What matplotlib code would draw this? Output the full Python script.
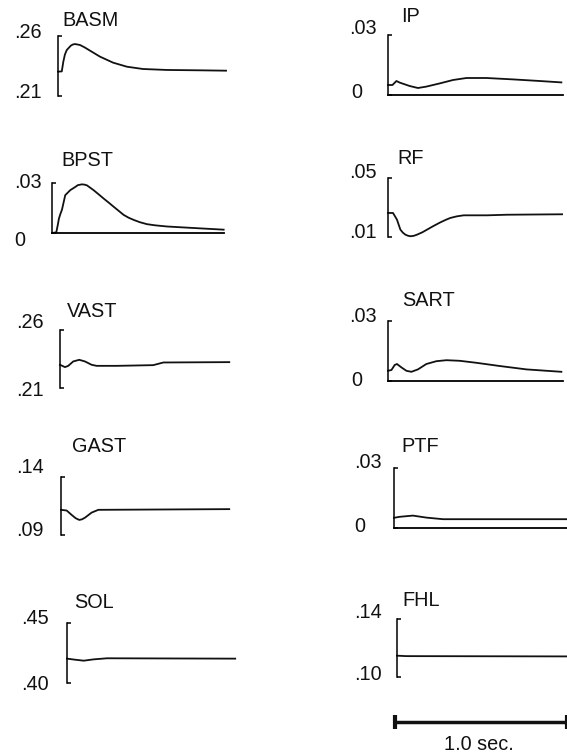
import matplotlib
matplotlib.use("Agg")
import matplotlib.pyplot as plt

W, H = 567, 754
PX_PER_SEC = 172.0
plt.rcParams["font.family"] = ["Liberation Sans", "DejaVu Sans"]

# traces: time in seconds, value in the panel's units
basm_t = [0, .022, .031, .040, .051, .074, .086, .099, .128, .155, .186, .244, .320, .401, .494, .634, .826, .977]
basm_v = [.2303, .2305, .2386, .2445, .2483, .2519, .2529, .2533, .2525, .2505, .2478, .2428, .2378, .2344, .2325, .2317, .2314, .2311]

bpst_t = [0, .025, .033, .040, .048, .058, .077, .106, .135, .150, .174, .190, .203, .242, .270, .300, .330, .358,
          .390, .416, .445, .474, .510, .552, .600, .669, .823, .998]
bpst_v = [0.0, .0004, .0045, .0085, .0112, .0140, .0227, .0257, .0276, .0287, .0292, .0290, .0286, .0257, .0233, .0207,
          .0182, .0158, .0131, .0109, .0092, .0079, .0065, .0053, .0046, .0039, .0030, .0020]

vast_t = [0, .029, .048, .077, .112, .145, .184, .213, .330, .542, .601, .984]
vast_v = [.2300, .2280, .2291, .2329, .2343, .2329, .2300, .2291, .2291, .2297, .2320, .2323]

gast_t = [0, .033, .062, .085, .106, .122, .140, .178, .217, .978]
gast_v = [.1117, .1111, .1073, .1045, .1030, .1035, .1050, .1093, .1117, .1123]

sol_t = [0, .048, .097, .155, .233, .978]
sol_v = [.4203, .4194, .4186, .4197, .4206, .4203]

ip_t = [0, .026, .049, .068, .126, .174, .223, .301, .378, .456, .572, .727, .882, 1.008]
ip_v = [.0050, .0050, .0070, .0062, .0045, .0035, .0042, .0058, .0075, .0085, .0085, .0078, .0070, .0063]

rf_t = [0, .029, .052, .072, .086, .101, .115, .130, .150, .169, .200, .227, .265, .304, .335, .362, .400, .440,
        .576, .692, 1.012]
rf_v = [.0263, .0263, .0218, .0150, .0130, .0116, .0109, .0105, .0108, .0116, .0132, .0150, .0175, .0199, .0216,
        .0229, .0240, .0247, .0247, .0251, .0254]

sart_t = [0, .020, .039, .052, .078, .107, .136, .174, .223, .281, .340, .417, .514, .649, .805, 1.008]
sart_v = [.0051, .0055, .0080, .0085, .0068, .0051, .0046, .0058, .0085, .0099, .0104, .0101, .0091, .0075, .0058, .0046]

ptf_t = [0, .033, .110, .188, .285, .421, 1.002]
ptf_v = [.0051, .0056, .0062, .0052, .0044, .0044, .0044]

fhl_t = [0, .053, .988]
fhl_v = [.1147, .1144, .1142]

names = ["BASM", "BPST", "VAST", "GAST", "SOL", "IP", "RF", "SART", "PTF", "FHL"]
times = [basm_t, bpst_t, vast_t, gast_t, sol_t, ip_t, rf_t, sart_t, ptf_t, fhl_t]
values = [basm_v, bpst_v, vast_v, gast_v, sol_v, ip_v, rf_v, sart_v, ptf_v, fhl_v]
y_lo = [.21, 0, .21, .09, .40, 0, .01, 0, 0, .10]
y_hi = [.26, .03, .26, .14, .45, .03, .05, .03, .03, .14]
lo_labels = [".21", "0", ".21", ".09", ".40", "0", ".01", "0", "0", ".10"]
hi_labels = [".26", ".03", ".26", ".14", ".45", ".03", ".05", ".03", ".03", ".14"]
scale_len = 1.0
scale_label = "1.0 sec."

# panel boxes in pixels: x_left, x_right, y_top, y_bottom
boxes = [(58, 227, 36, 96), (52, 224, 183, 233), (60, 230, 330, 388),
         (61, 230, 477, 535), (67, 236, 623, 683),
         (388, 563, 35, 95), (388, 563, 178, 237), (388, 563, 321, 381),
         (394, 567, 468, 528), (397, 567, 619, 677)]
name_pos = [(62, 20), (61, 161), (67, 311), (72, 447), (74, 603),
            (401, 17), (397, 159), (402, 301), (401, 447), (402, 600)]
hi_pos = [(14, 32), (14, 182), (16, 323), (16, 467), (21, 619),
          (349, 29), (349, 172), (349, 317), (354, 462), (354, 613)]
lo_pos = [(14, 92), (14, 241), (16, 390), (16, 530), (21, 684),
          (351, 92), (349, 232), (351, 380), (354, 526), (354, 675)]

fig = plt.figure(figsize=(W / 100, H / 100), dpi=100)
fs = 14.3
ink = "#111111"


def fig_xy(p):
    return p[0] / W, 1 - p[1] / H


for i, name in enumerate(names):
    x0, x1, yt, yb = boxes[i]
    ax = fig.add_axes([x0 / W, 1 - yb / H, (x1 - x0) / W, (yb - yt) / H])
    ax.patch.set_visible(False)
    ax.plot(times[i], values[i], color=ink, lw=1.3, clip_on=False,
            solid_joinstyle="round")
    ax.set_xlim(0, (x1 - x0) / PX_PER_SEC)
    ax.set_ylim(y_lo[i], y_hi[i])
    for s in ["top", "right"]:
        ax.spines[s].set_visible(False)
    ax.spines["bottom"].set_visible(y_lo[i] == 0)
    ax.spines["left"].set_linewidth(1.1)
    ax.spines["bottom"].set_linewidth(1.3)
    ax.set_xticks([])
    ax.set_yticks([y_lo[i], y_hi[i]])
    ax.tick_params(axis="y", direction="in", length=3, width=1.1, labelleft=False)

    fig.text(*fig_xy(name_pos[i]), name, fontsize=fs, ha="left", va="center", color=ink)
    fig.text(*fig_xy(hi_pos[i]), hi_labels[i], fontsize=fs, ha="left", va="center", color=ink)
    fig.text(*fig_xy(lo_pos[i]), lo_labels[i], fontsize=fs, ha="left", va="center", color=ink)

# time scale bar
sax = fig.add_axes([395 / W, 1 - 732 / H, 172 / W, 20 / H])
sax.axis("off")
sax.set_xlim(0, scale_len)
sax.set_ylim(0, 1)
sax.plot([0, scale_len], [0.5, 0.5], color=ink, lw=2.5, clip_on=False,
         marker="|", markersize=10, markeredgewidth=3)
fig.text(479 / W, 1 - 744 / H, scale_label, fontsize=fs, ha="center", va="center", color=ink)

fig.savefig("out.png", dpi=100)
